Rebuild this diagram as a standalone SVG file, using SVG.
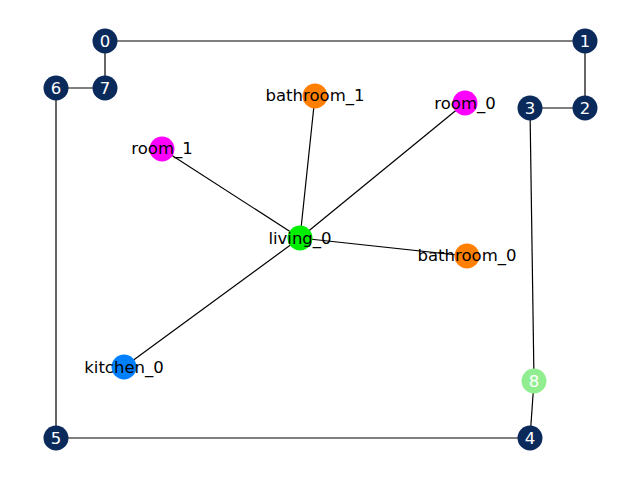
<svg xmlns="http://www.w3.org/2000/svg" width="640" height="480" viewBox="0 0 640 480">
<style>
.e{stroke:#000;stroke-width:1.2;fill:none}
.n{fill:#0b2a5c}
.t{font-family:"DejaVu Sans",sans-serif;font-size:16.5px;text-anchor:middle;dominant-baseline:central}
.w{fill:#fff}
.k{fill:#000}
</style>
<rect width="640" height="480" fill="#fff"/>
<g id="edges">
<line class="e" x1="105" y1="41" x2="585" y2="41"/>
<line class="e" x1="585" y1="41" x2="585" y2="108"/>
<line class="e" x1="585" y1="108" x2="530" y2="108"/>
<line class="e" x1="105" y1="41" x2="105" y2="88"/>
<line class="e" x1="56" y1="88" x2="105" y2="88"/>
<line class="e" x1="56" y1="88" x2="56" y2="438"/>
<line class="e" x1="56" y1="438" x2="530" y2="438"/>
<line class="e" x1="530" y1="438" x2="534" y2="381"/>
<line class="e" x1="534" y1="381" x2="530" y2="108"/>
<line class="e" x1="300" y1="238" x2="315" y2="96"/>
<line class="e" x1="300" y1="238" x2="465" y2="103"/>
<line class="e" x1="300" y1="238" x2="162" y2="149"/>
<line class="e" x1="300" y1="238" x2="467" y2="256"/>
<line class="e" x1="300" y1="238" x2="124" y2="367"/>
</g>
<g id="n0"><circle class="n" cx="105" cy="41" r="12.5"/><text class="t w" x="105" y="41">0</text></g>
<g id="n1"><circle class="n" cx="585" cy="41" r="12.5"/><text class="t w" x="585" y="41">1</text></g>
<g id="n2"><circle class="n" cx="585" cy="108" r="12.5"/><text class="t w" x="585" y="108">2</text></g>
<g id="n3"><circle class="n" cx="530" cy="108" r="12.5"/><text class="t w" x="530" y="108">3</text></g>
<g id="n4"><circle class="n" cx="530" cy="438" r="12.5"/><text class="t w" x="530" y="438">4</text></g>
<g id="n5"><circle class="n" cx="56" cy="438" r="12.5"/><text class="t w" x="56" y="438">5</text></g>
<g id="n6"><circle class="n" cx="56" cy="88" r="12.5"/><text class="t w" x="56" y="88">6</text></g>
<g id="n7"><circle class="n" cx="105" cy="88" r="12.5"/><text class="t w" x="105" y="88">7</text></g>
<g id="n8"><circle cx="534" cy="381" r="12.5" fill="#90ee90"/><text class="t w" x="534" y="381">8</text></g>
<g id="bathroom_1"><circle cx="315" cy="96" r="12.5" fill="#ff7f00"/><text class="t k" x="315" y="95">bathroom_1</text></g>
<g id="room_0"><circle cx="465" cy="103" r="12.5" fill="#ff00ff"/><text class="t k" x="465" y="103">room_0</text></g>
<g id="room_1"><circle cx="162" cy="149" r="12.5" fill="#ff00ff"/><text class="t k" x="162" y="148">room_1</text></g>
<g id="living_0"><circle cx="300" cy="238" r="12.5" fill="#00f000"/><text class="t k" x="300" y="238">living_0</text></g>
<g id="bathroom_0"><circle cx="467" cy="256" r="12.5" fill="#ff7f00"/><text class="t k" x="467" y="255">bathroom_0</text></g>
<g id="kitchen_0"><circle cx="124" cy="367" r="12.5" fill="#0080ff"/><text class="t k" x="124" y="367">kitchen_0</text></g>
</svg>
